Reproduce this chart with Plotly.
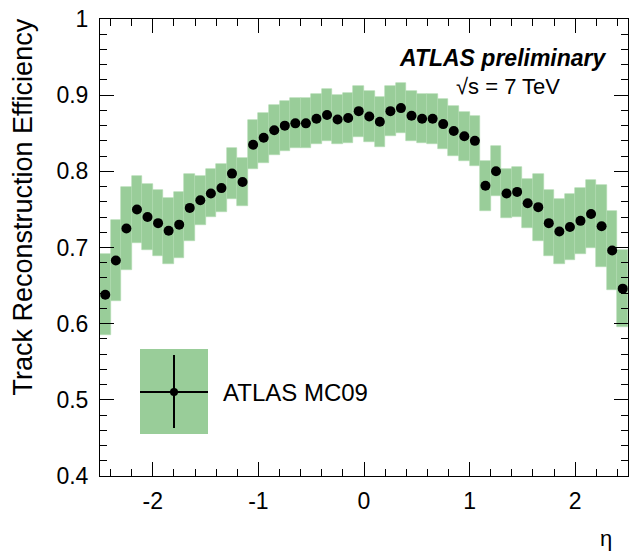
import plotly.graph_objects as go

eta_centers = [round(-2.45 + 0.1 * i, 2) for i in range(50)]
efficiency = [0.638, 0.683, 0.725, 0.750, 0.740, 0.732, 0.722, 0.730, 0.752, 0.762,
              0.771, 0.778, 0.797, 0.786, 0.835, 0.844, 0.854, 0.860, 0.863, 0.863,
              0.869, 0.874, 0.868, 0.870, 0.879, 0.872, 0.865, 0.879, 0.883, 0.873,
              0.869, 0.869, 0.862, 0.853, 0.846, 0.840, 0.781, 0.800, 0.771, 0.773,
              0.758, 0.753, 0.732, 0.721, 0.727, 0.735, 0.744, 0.728, 0.696, 0.646]
uncertainty = [0.053, 0.053, 0.054, 0.044, 0.0435, 0.043, 0.043, 0.0435, 0.044, 0.032,
               0.0315, 0.032, 0.033, 0.032, 0.0325, 0.0325, 0.033, 0.033, 0.033, 0.033,
               0.0325, 0.034, 0.0325, 0.033, 0.0335, 0.033, 0.033, 0.033, 0.033, 0.033,
               0.032, 0.033, 0.033, 0.033, 0.0325, 0.033, 0.0325, 0.033, 0.0325, 0.0325,
               0.0325, 0.044, 0.0435, 0.043, 0.0435, 0.0435, 0.044, 0.054, 0.052, 0.051]
x_tickvals = [-2, -1, 0, 1, 2]
x_ticktext = ["-2", "-1", "0", "1", "2"]
y_tickvals = [0.4, 0.5, 0.6, 0.7, 0.8, 0.9, 1.0]
y_ticktext = ["0.4", "0.5", "0.6", "0.7", "0.8", "0.9", "1"]

GREEN = "rgb(153,205,153)"
FONT = "Liberation Sans, Arial, Helvetica, sans-serif"

fig = go.Figure()
fig.add_trace(go.Bar(
    x=eta_centers,
    y=[2 * u for u in uncertainty],
    base=[e - u for e, u in zip(efficiency, uncertainty)],
    width=0.1,
    marker=dict(color=GREEN, line=dict(width=0.6, color="rgb(175,218,175)")),
    showlegend=False, hoverinfo="skip",
))
fig.add_trace(go.Scatter(
    x=eta_centers, y=efficiency, mode="markers",
    marker=dict(color="black", size=10, symbol="circle"),
    showlegend=False,
))

axis_common = dict(
    showgrid=False, zeroline=False, showline=True, linecolor="black", linewidth=1,
    mirror="allticks", ticks="inside", ticklen=14, tickcolor="black", tickwidth=1,
    tickfont=dict(family=FONT, size=23, color="black"), automargin=False,
)
fig.update_xaxes(range=[-2.5, 2.5], tickvals=x_tickvals, ticktext=x_ticktext,
                 minor=dict(ticks="inside", ticklen=7, dtick=0.2, tick0=0, tickcolor="black"),
                 ticklabelstandoff=4, **axis_common)
fig.update_yaxes(range=[0.4, 1.0], tickvals=y_tickvals, ticktext=y_ticktext,
                 minor=dict(ticks="inside", ticklen=7, dtick=0.02, tick0=0.4, tickcolor="black"),
                 ticklabelstandoff=6, **axis_common)

# legend (drawn in paper coordinates)
W, H = 632, 553
L, R, T, B = 100, 4, 19, 77
pw, ph = W - L - R, H - T - B
def px(x): return (x - L) / pw
def py(y): return (H - B - y) / ph

fig.add_shape(type="rect", xref="paper", yref="paper",
              x0=px(140), x1=px(208), y0=py(434), y1=py(349),
              fillcolor=GREEN, line=dict(width=0))
fig.add_shape(type="line", xref="paper", yref="paper",
              x0=px(140), x1=px(208), y0=py(392), y1=py(392),
              line=dict(color="black", width=2))
fig.add_shape(type="line", xref="paper", yref="paper",
              x0=px(174), x1=px(174), y0=py(355), y1=py(428),
              line=dict(color="black", width=2))
fig.add_shape(type="circle", xref="paper", yref="paper",
              x0=px(170), x1=px(178), y0=py(396), y1=py(388),
              fillcolor="black", line=dict(width=0))

fig.add_annotation(xref="paper", yref="paper", x=px(221), y=py(392), text="ATLAS MC09",
                   showarrow=False, xanchor="left", yanchor="middle",
                   font=dict(family=FONT, size=24, color="black"))
fig.add_annotation(xref="paper", yref="paper", x=px(609), y=py(58),
                   text="<b><i>ATLAS preliminary</i></b>",
                   showarrow=False, xanchor="right", yanchor="middle",
                   font=dict(family=FONT, size=23, color="black"))
fig.add_annotation(xref="paper", yref="paper", x=px(454), y=py(86),
                   text="\u221As = 7 TeV",
                   showarrow=False, xanchor="left", yanchor="middle",
                   font=dict(family=FONT, size=22, color="black"))
fig.add_annotation(xref="paper", yref="paper", x=px(606), y=py(538), text="\u03b7",
                   showarrow=False, xanchor="center", yanchor="middle",
                   font=dict(family=FONT, size=22, color="black"))
fig.add_annotation(xref="paper", yref="paper", x=px(22), y=py(17),
                   text="Track Reconstruction Efficiency", textangle=-90,
                   showarrow=False, xanchor="center", yanchor="top",
                   font=dict(family=FONT, size=27, color="black"))

fig.update_layout(
    width=W, height=H, margin=dict(l=L, r=R, t=T, b=B),
    paper_bgcolor="white", plot_bgcolor="white",
    bargap=0, showlegend=False,
)
fig.write_html("out.html", config={"displayModeBar": False},
               post_script="document.body.style.margin='0';document.body.style.overflow='hidden';")
